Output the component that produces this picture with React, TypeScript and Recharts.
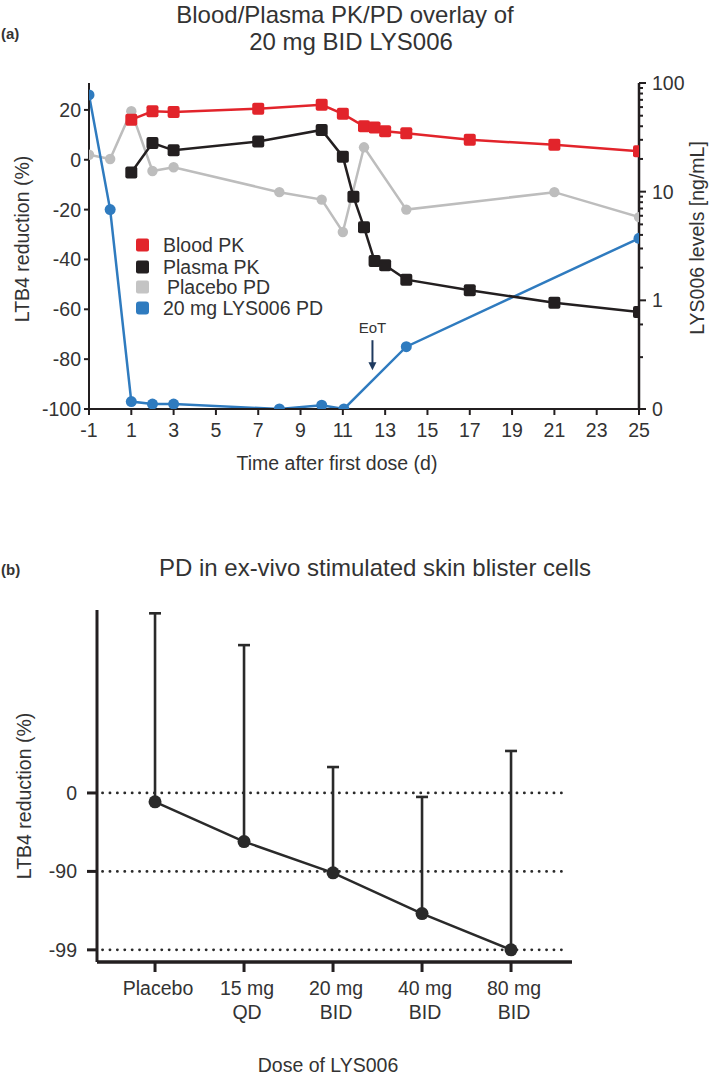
import React from 'react';
import { LineChart, Line, XAxis, YAxis, ReferenceLine, ErrorBar } from 'recharts';

// panel (a): time course
const timeTicks = [-1, 1, 3, 5, 7, 9, 11, 13, 15, 17, 19, 21, 23, 25];
const pctTicks = [-100, -80, -60, -40, -20, 0, 20];
const levelTicks = [
  0.1, 0.3, 0.6, 1, 2, 3, 4, 5, 6, 7, 8, 9, 10, 20, 30, 40, 50, 60, 70, 80, 90, 100,
];
const levelMajor = [0.1, 1, 10, 100];

const bloodDays = [1, 2, 3, 7, 10, 11, 12, 12.5, 13, 14, 17, 21, 25];
const bloodPK = [46, 55, 54, 58, 63, 52, 40, 39, 36, 34.5, 30, 27, 23.5];

const plasmaDays = [1, 2, 3, 7, 10, 11, 11.5, 12, 12.5, 13, 14, 17, 21, 25];
const plasmaPK = [15, 28, 24, 29, 37, 21, 9, 4.7, 2.3, 2.1, 1.55, 1.24, 0.95, 0.78];

const placeboDays = [-1, 0, 1, 2, 3, 8, 10, 11, 12, 14, 21, 25];
const placeboPD = [2, 0.3, 19.5, -4.5, -3, -13, -16, -29, 5, -20, -13, -23];

const pdDays = [-1, 0, 1, 2, 3, 8, 10, 11.05, 14, 25];
const pdValues = [26, -20, -97, -98, -98, -100, -98.5, -100, -75, -31.5];

const legendNames = ['Blood PK', 'Plasma PK', 'Placebo PD', '20 mg LYS006 PD'];
const legendColors = ['#E2242B', '#231F20', '#C4C4C4', '#2F7BBF'];

// panel (b): dose response
const doseLabels = [['Placebo'], ['15 mg', 'QD'], ['20 mg', 'BID'], ['40 mg', 'BID'], ['80 mg', 'BID']];
const doseReduction = [-23, -76, -90.4, -97.1, -99];
const doseUpper = [19400, 7570, 114, -11, 243];
const reductionTicks = [0, -90, -99];

const FONT = '"Liberation Sans", Arial, Helvetica, sans-serif';
const TXT = '#333';
const AX = '#231F20';

const toSeries = (days: number[], vals: number[]) => days.map((d, i) => ({ day: d, value: vals[i] }));

const bloodData = toSeries(bloodDays, bloodPK);
const plasmaData = toSeries(plasmaDays, plasmaPK);
const placeboData = toSeries(placeboDays, placeboPD);
const pdData = toSeries(pdDays, pdValues);

const doseData = doseReduction.map((v, i) => ({
  dose: i,
  remaining: 100 + v,
  err: [0, doseUpper[i] - v],
}));

const Square = (color: string) => (p: any) => {
  if (p.cx == null || p.cy == null) return <g key={p.key} />;
  return <rect key={p.key} x={p.cx - 6} y={p.cy - 6} width={12} height={12} rx={2} fill={color} />;
};

const Circle = (color: string, r: number) => (p: any) => {
  if (p.cx == null || p.cy == null) return <g key={p.key} />;
  return <circle key={p.key} cx={p.cx} cy={p.cy} r={r} fill={color} />;
};

const TopXTick = (p: any) => (
  <g>
    <line x1={p.x} x2={p.x} y1={p.y} y2={p.y + 6} stroke={AX} strokeWidth={2} />
    <text x={p.x} y={p.y + 28} textAnchor="middle" fontSize={19.5} fill={TXT} fontFamily={FONT}>
      {p.payload.value}
    </text>
  </g>
);

const PctTick = (p: any) => (
  <g>
    <line x1={p.x - 5} x2={p.x} y1={p.y} y2={p.y} stroke={AX} strokeWidth={2} />
    <text x={p.x - 8} y={p.y} dy="0.36em" textAnchor="end" fontSize={19.5} fill={TXT} fontFamily={FONT}>
      {p.payload.value}
    </text>
  </g>
);

const LevelTick = (p: any) => {
  const v = p.payload.value;
  const major = levelMajor.includes(v);
  return (
    <g>
      <line x1={p.x} x2={p.x + (major ? 7 : 4)} y1={p.y} y2={p.y} stroke={AX} strokeWidth={2} />
      {major && (
        <text x={p.x + 13} y={p.y} dy="0.36em" textAnchor="start" fontSize={19.5} fill={TXT} fontFamily={FONT}>
          {v < 1 ? '0' : v}
        </text>
      )}
    </g>
  );
};

const EotArrow = (p: any) => {
  const { x1, y1, y2 } = p;
  return (
    <g>
      <text x={x1} y={y1 - 7} textAnchor="middle" fontSize={15} fill={TXT} fontFamily={FONT}>
        EoT
      </text>
      <line x1={x1} x2={x1} y1={y1} y2={y2 - 7} stroke="#1F3A5F" strokeWidth={2} />
      <polygon points={`${x1 - 4},${y2 - 8} ${x1 + 4},${y2 - 8} ${x1},${y2}`} fill="#1F3A5F" />
    </g>
  );
};

const DoseXTick = (p: any) => {
  const lines = doseLabels[p.payload.value] || [];
  return (
    <g>
      <line x1={p.x} x2={p.x} y1={p.y} y2={p.y + 10} stroke={AX} strokeWidth={3} />
      {lines.map((t, i) => (
        <text key={t} x={p.x + 3} y={p.y + 33 + i * 24} textAnchor="middle" fontSize={19.5} fill={TXT} fontFamily={FONT}>
          {t}
        </text>
      ))}
    </g>
  );
};

const DoseYTick = (p: any) => (
  <g>
    <line x1={p.x - 10} x2={p.x} y1={p.y} y2={p.y} stroke={AX} strokeWidth={3} />
    <text x={p.x - 20} y={p.y} dy="0.36em" textAnchor="end" fontSize={19.5} fill={TXT} fontFamily={FONT}>
      {Math.round(p.payload.value - 100)}
    </text>
  </g>
);

const Overlay = () => (
  <svg
    width={709}
    height={1078}
    style={{ position: 'absolute', left: 0, top: 0, pointerEvents: 'none' }}
    fontFamily={FONT}
  >
    <text x={1} y={39} fontSize={15} fontWeight="bold" fill={TXT}>(a)</text>
    <text x={345} y={23} textAnchor="middle" fontSize={24} fill={TXT}>Blood/Plasma PK/PD overlay of</text>
    <text x={351} y={50} textAnchor="middle" fontSize={24} fill={TXT}>20 mg BID LYS006</text>
    <text transform="translate(29,239) rotate(-90)" textAnchor="middle" fontSize={19.5} fill={TXT}>
      LTB4 reduction (%)
    </text>
    <text transform="translate(704,238) rotate(-90)" textAnchor="middle" fontSize={19.5} fill={TXT}>
      LYS006 levels [ng/mL]
    </text>
    <text x={337} y={470} textAnchor="middle" fontSize={19.5} fill={TXT}>Time after first dose (d)</text>

    {legendNames.map((name, i) => {
      const cy = [245, 267, 287, 308][i];
      return (
        <g key={name}>
          <rect x={136} y={cy - 6.5} width={13} height={13} rx={i === 3 ? 3 : 2} fill={legendColors[i]} />
          <text x={i === 2 ? 167 : 163} y={cy} dy="0.36em" fontSize={19.5} fill={TXT}>
            {name}
          </text>
        </g>
      );
    })}

    <text x={1} y={575} fontSize={15} fontWeight="bold" fill={TXT}>(b)</text>
    <text x={375} y={576} textAnchor="middle" fontSize={24} fill={TXT}>PD in ex-vivo stimulated skin blister cells</text>
    <text transform="translate(31,796) rotate(-90)" textAnchor="middle" fontSize={19.5} fill={TXT}>
      LTB4 reduction (%)
    </text>
    <text x={328} y={1072} textAnchor="middle" fontSize={19.5} fill={TXT}>Dose of LYS006</text>
  </svg>
);

export default function App() {
  return (
    <div style={{ position: 'absolute', left: 0, top: 0, width: 709, height: 1078, background: '#fff', fontFamily: FONT }}>
      <div style={{ position: 'absolute', left: 0, top: 0 }}>
        <LineChart width={709} height={470} margin={{ top: 83, right: 0, bottom: 0, left: 0 }}>
          <XAxis
            dataKey="day"
            type="number"
            domain={[-1, 25]}
            ticks={timeTicks}
            interval={0}
            allowDataOverflow
            height={61}
            tickSize={0}
            tickMargin={0}
            tickLine={false}
            axisLine={{ stroke: AX, strokeWidth: 2 }}
            tick={TopXTick}
          />
          <YAxis
            yAxisId="pct"
            orientation="left"
            type="number"
            domain={[-100, 30.8]}
            ticks={pctTicks}
            interval={0}
            allowDataOverflow
            width={89}
            tickSize={0}
            tickMargin={0}
            tickLine={false}
            axisLine={{ stroke: AX, strokeWidth: 2 }}
            tick={PctTick}
          />
          <YAxis
            yAxisId="lvl"
            orientation="right"
            type="number"
            scale="log"
            domain={[0.1, 100]}
            ticks={levelTicks}
            interval={0}
            allowDataOverflow
            width={70}
            tickSize={0}
            tickMargin={0}
            tickLine={false}
            axisLine={{ stroke: AX, strokeWidth: 2.5 }}
            tick={LevelTick}
          />
          <ReferenceLine
            yAxisId="pct"
            segment={[{ x: 12.4, y: -72.4 }, { x: 12.4, y: -84.5 }]}
            shape={EotArrow}
            ifOverflow="visible"
          />
          <Line
            data={placeboData}
            yAxisId="pct"
            dataKey="value"
            stroke="#BDBDBD"
            strokeWidth={2.5}
            dot={Circle('#BDBDBD', 5.2)}
            activeDot={false}
            isAnimationActive={false}
          />
          <Line
            data={pdData}
            yAxisId="pct"
            dataKey="value"
            stroke="#2F7BBF"
            strokeWidth={2.5}
            dot={Circle('#2F7BBF', 5.5)}
            activeDot={false}
            isAnimationActive={false}
          />
          <Line
            data={plasmaData}
            yAxisId="lvl"
            dataKey="value"
            stroke="#231F20"
            strokeWidth={2.5}
            dot={Square('#231F20')}
            activeDot={false}
            isAnimationActive={false}
          />
          <Line
            data={bloodData}
            yAxisId="lvl"
            dataKey="value"
            stroke="#E2242B"
            strokeWidth={2.5}
            dot={Square('#E2242B')}
            activeDot={false}
            isAnimationActive={false}
          />
        </LineChart>
      </div>

      <div style={{ position: 'absolute', left: 0, top: 540 }}>
        <LineChart width={709} height={538} data={doseData} margin={{ top: 70, right: 137, bottom: 0, left: 0 }}>
          <XAxis
            dataKey="dose"
            type="number"
            domain={[-0.652, 4.685]}
            ticks={[0, 1, 2, 3, 4]}
            interval={0}
            allowDataOverflow
            height={116}
            tickSize={0}
            tickMargin={0}
            tickLine={false}
            axisLine={{ stroke: AX, strokeWidth: 3.5 }}
            tick={DoseXTick}
          />
          <YAxis
            type="number"
            scale="log"
            domain={[0.7, 21500]}
            ticks={reductionTicks.map((t) => 100 + t)}
            interval={0}
            allowDataOverflow
            width={97}
            tickSize={0}
            tickMargin={0}
            tickLine={false}
            axisLine={{ stroke: AX, strokeWidth: 3 }}
            tick={DoseYTick}
          />
          {reductionTicks.map((t) => (
            <ReferenceLine
              key={t}
              segment={[{ x: -0.59, y: 100 + t }, { x: 4.63, y: 100 + t }]}
              stroke="#2a2a2a"
              strokeWidth={2.8}
              strokeLinecap="round"
              strokeDasharray="0.1 7.3"
            />
          ))}
          <Line
            dataKey="remaining"
            stroke="#2a2a2a"
            strokeWidth={2.5}
            dot={Circle('#2a2a2a', 6.5)}
            activeDot={false}
            isAnimationActive={false}
          >
            <ErrorBar dataKey="err" direction="y" width={6} strokeWidth={2.6} stroke="#2a2a2a" />
          </Line>
        </LineChart>
      </div>

      <Overlay />
    </div>
  );
}
